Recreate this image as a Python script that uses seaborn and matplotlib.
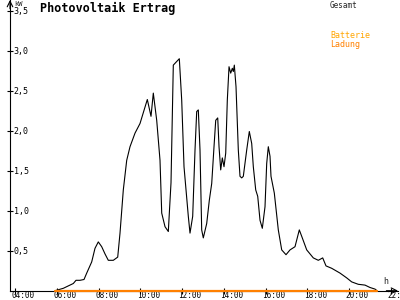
import matplotlib
matplotlib.use('Agg')
import matplotlib.pyplot as plt
import seaborn as sns
from matplotlib.transforms import ScaledTranslation

# ---- data (hours of day, kW) ----
hours = [5.916, 6.314, 6.553, 6.793, 6.922, 7.114, 7.305, 7.435, 7.674, 7.832,
         7.990, 8.153, 8.311, 8.469, 8.709, 8.920, 9.030, 9.188, 9.351, 9.509,
         9.749, 9.988, 10.338, 10.515, 10.625, 10.788, 10.946, 11.028, 11.186, 11.344,
         11.473, 11.583, 11.871, 11.986, 12.096, 12.302, 12.383, 12.512, 12.623, 12.704,
         12.781, 12.862, 12.943, 13.020, 13.183, 13.308, 13.423, 13.533, 13.615, 13.711,
         13.773, 13.854, 13.931, 14.012, 14.094, 14.170, 14.252, 14.333, 14.410, 14.458,
         14.506, 14.587, 14.697, 14.778, 14.860, 14.937, 15.100, 15.224, 15.339, 15.416,
         15.531, 15.627, 15.737, 15.847, 15.976, 16.057, 16.134, 16.216, 16.263, 16.422,
         16.613, 16.776, 16.982, 17.174, 17.413, 17.619, 17.734, 17.974, 18.290, 18.529,
         18.740, 18.898, 19.171, 19.569, 19.890, 20.129, 20.445, 20.766, 21.006, 21.245,
         21.341]
gesamt_kw = [0.00, 0.03, 0.06, 0.09, 0.13, 0.13, 0.14, 0.22, 0.36, 0.53,
             0.61, 0.55, 0.46, 0.38, 0.38, 0.42, 0.72, 1.26, 1.63, 1.80,
             1.97, 2.09, 2.39, 2.18, 2.47, 2.13, 1.63, 0.97, 0.80, 0.74,
             1.35, 2.82, 2.90, 2.38, 1.55, 0.93, 0.72, 0.93, 1.76, 2.24,
             2.26, 1.76, 0.76, 0.66, 0.84, 1.13, 1.34, 1.80, 2.13, 2.16,
             1.80, 1.51, 1.66, 1.55, 1.72, 2.38, 2.80, 2.72, 2.78, 2.74,
             2.82, 2.55, 1.76, 1.43, 1.41, 1.43, 1.76, 1.99, 1.84, 1.55,
             1.26, 1.18, 0.88, 0.78, 1.05, 1.59, 1.80, 1.68, 1.43, 1.22,
             0.76, 0.51, 0.45, 0.51, 0.55, 0.76, 0.68, 0.51, 0.41, 0.38,
             0.41, 0.31, 0.28, 0.22, 0.16, 0.11, 0.08, 0.07, 0.04, 0.02,
             0.00]
ladung_hours = [5.916, 21.341]
ladung_kw = [0.0, 0.0]

x_ticks = [4, 6, 8, 10, 12, 14, 16, 18, 20, 22]
x_tick_labels = ['04:00', '06:00', '08:00', '10:00', '12:00', '14:00',
                 '16:00', '18:00', '20:00', '22:00']
y_ticks = [0.5, 1.0, 1.5, 2.0, 2.5, 3.0, 3.5]
y_tick_labels = ['0,5', '1,0', '1,5', '2,0', '2,5', '3,0', '3,5']

sns.set_style('ticks')
plt.rcParams['font.family'] = ['DejaVu Sans Mono', 'DejaVu Sans']

fig = plt.figure(figsize=(4, 3), dpi=100)
ax = fig.add_axes([10 / 400, 9.3 / 300, 388 / 400, 290.7 / 300])

sns.lineplot(x=hours, y=gesamt_kw, color='black', lw=0.8, ax=ax,
             estimator=None, sort=False)
sns.lineplot(x=ladung_hours, y=ladung_kw, color='#ff8000', lw=1.6, ax=ax,
             estimator=None, sort=False)
ax.lines[-1].set_clip_on(False)
ax.lines[-1].set_zorder(5)

ax.set_xlim(3.760, 22.347)
ax.set_ylim(0, 3.634)

for s in ['top', 'right']:
    ax.spines[s].set_visible(False)
for s in ['left', 'bottom']:
    ax.spines[s].set_linewidth(0.8)
    ax.spines[s].set_color('black')

ax.set_xticks(x_ticks, x_tick_labels)
ax.set_yticks(y_ticks, y_tick_labels)
ax.tick_params(axis='both', direction='inout', length=5, width=0.8,
               colors='black')
ax.tick_params(axis='y', pad=-5.2, labelsize=6)
ax.tick_params(axis='x', pad=-2.2, labelsize=5.5)

xoff = ScaledTranslation(-3.5 / 100, 0, fig.dpi_scale_trans)
for lbl in ax.get_xticklabels():
    lbl.set_ha('left')
    lbl.set_transform(lbl.get_transform() + xoff)
for lbl in ax.get_yticklabels():
    lbl.set_ha('left')

# axis arrows
ax.annotate('', xy=(1.0, 0), xytext=(0.97, 0), xycoords='axes fraction',
            arrowprops=dict(arrowstyle='->', lw=0.8, color='black',
                            shrinkA=0, shrinkB=0))
ax.annotate('', xy=(0, 1.0), xytext=(0, 0.97), xycoords='axes fraction',
            arrowprops=dict(arrowstyle='->', lw=0.8, color='black',
                            shrinkA=0, shrinkB=0))

# texts
fig.text(40 / 400, 1 - 8 / 300, 'Photovoltaik Ertrag', fontsize=8.5,
         fontweight='bold', va='center', ha='left', color='black')
fig.text(14 / 400, 1 - 4 / 300, 'kW', fontsize=5, va='center', ha='left')
fig.text(330 / 400, 1 - 5 / 300, 'Gesamt', fontsize=5.5, va='center', ha='left')
fig.text(330 / 400, 1 - 36 / 300, 'Batterie', fontsize=6, va='center',
         ha='left', color='#ffa500')
fig.text(330 / 400, 1 - 44 / 300, 'Ladung', fontsize=6, va='center',
         ha='left', color='#ff8000')
fig.text(386 / 400, 1 - 281 / 300, 'h', fontsize=6, va='center', ha='center')

fig.savefig('out.png', dpi=100)
